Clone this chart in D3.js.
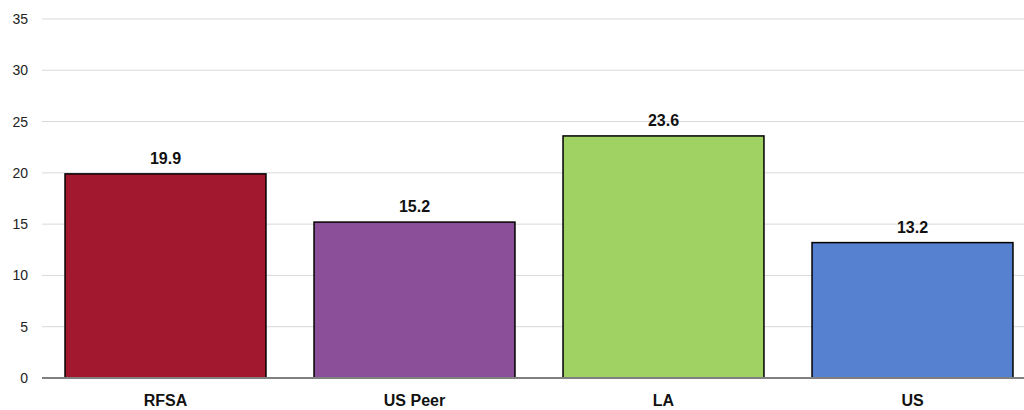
<!DOCTYPE html>
<html>
<head>
<meta charset="UTF-8">
<script src="https://d3js.org/d3.v7.min.js"></script>
<style>
  body { margin: 0; background: #fff; }
  text { font-family: "Liberation Sans", Arial, sans-serif; }
  .tick text { font-size: 14px; fill: #222; }
  .val, .cat { font-size: 16px; font-weight: bold; fill: #111; }
</style>
</head>
<body>
<script>
var categories = ["RFSA", "US Peer", "LA", "US"];
var values = [19.9, 15.2, 23.6, 13.2];
var colors = ["#A2182F", "#8B4E98", "#A0D163", "#5680D0"];
var yTicks = [0, 5, 10, 15, 20, 25, 30, 35];

var width = 1024, height = 410;
var svg = d3.select("body").append("svg").attr("width", width).attr("height", height);

var x = d3.scaleBand().domain(categories).range([41, 1037]);
var y = d3.scaleLinear().domain([0, 35]).range([378, 19]);
var barW = x.bandwidth() * 0.807;

// gridlines
svg.append("g").selectAll("line").data(yTicks.filter(function (d) { return d > 0; }))
  .enter().append("line")
  .attr("x1", 42).attr("x2", width)
  .attr("y1", function (d) { return y(d); }).attr("y2", function (d) { return y(d); })
  .attr("stroke", "#d9d9d9").attr("stroke-width", 1);

var yAxis = svg.append("g").attr("transform", "translate(42,0)")
  .call(d3.axisLeft(y).tickValues(yTicks).tickSize(0).tickPadding(14));
yAxis.select(".domain").remove();

svg.append("g").selectAll("rect").data(values).enter().append("rect")
  .attr("x", function (d, i) { return x(categories[i]) + (x.bandwidth() - barW) / 2; })
  .attr("y", function (d) { return y(d); })
  .attr("width", barW)
  .attr("height", function (d) { return y(0) - y(d); })
  .attr("fill", function (d, i) { return colors[i]; })
  .attr("stroke", "#000").attr("stroke-width", 1.5);

// baseline
svg.append("line").attr("x1", 42).attr("x2", width)
  .attr("y1", y(0)).attr("y2", y(0))
  .attr("stroke", "#808080").attr("stroke-width", 2);

svg.append("g").selectAll("text").data(values).enter().append("text")
  .attr("class", "val")
  .attr("x", function (d, i) { return x(categories[i]) + x.bandwidth() / 2; })
  .attr("y", function (d) { return y(d) - 10; })
  .attr("text-anchor", "middle")
  .text(function (d) { return d.toFixed(1); });

svg.append("g").selectAll("text").data(categories).enter().append("text")
  .attr("class", "cat")
  .attr("x", function (d) { return x(d) + x.bandwidth() / 2; })
  .attr("y", 406)
  .attr("text-anchor", "middle")
  .text(function (d) { return d; });
</script>
</body>
</html>
